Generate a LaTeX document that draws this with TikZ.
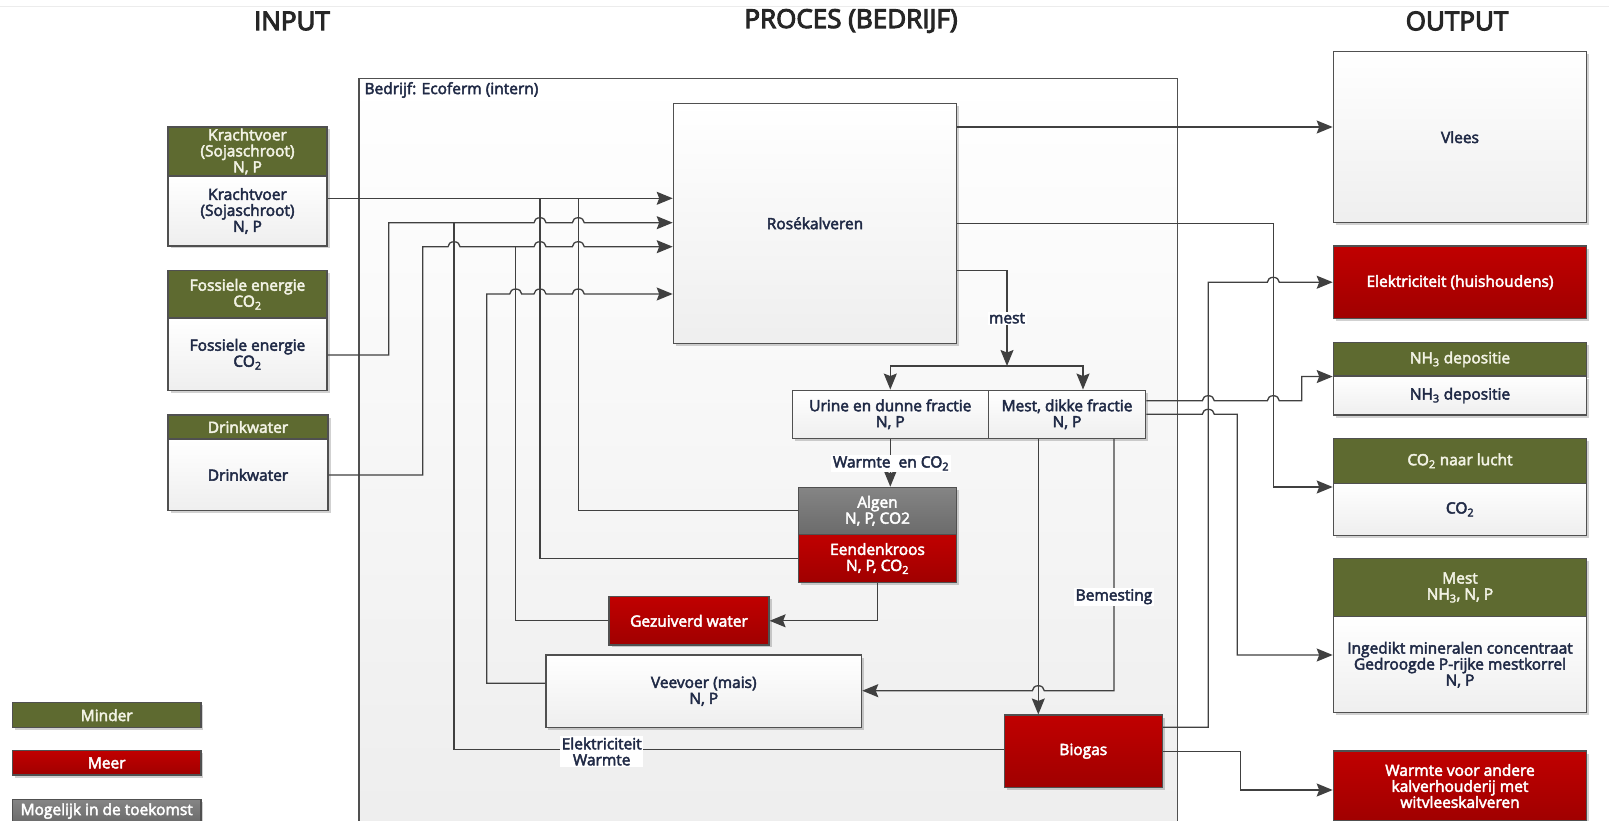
\documentclass[tikz,border=0pt]{standalone}
\usepackage{fontspec}
\setmainfont{Open Sans}[FakeBold=3]
\usetikzlibrary{arrows.meta,shadows}

\definecolor{lijngrijs}{RGB}{64,64,64}
\definecolor{kaderrand}{RGB}{80,80,80}
\definecolor{olijf}{RGB}{94,106,48}
\definecolor{roodboven}{RGB}{192,0,0}
\definecolor{roodonder}{RGB}{160,0,0}
\definecolor{donkerblauw}{RGB}{32,42,70}
\definecolor{kopletter}{RGB}{242,242,228}

\newcommand{\sprong}{arc[start angle=180,end angle=0,x radius=6pt,y radius=5pt]}
\newcommand{\sprongL}{arc[start angle=0,end angle=180,x radius=6pt,y radius=5pt]}

\tikzset{
  titel/.style={font=\fontsize{26}{30}\selectfont\addfontfeature{FakeBold=4}, text=black!85},
  proces/.style={draw=kaderrand, line width=1.2pt, top color=white, bottom color=gray!14},
  vak/.style={draw=kaderrand, line width=1.2pt, align=center, inner sep=0.5pt,
    font=\fontsize{15.5}{16}\selectfont,
    drop shadow={shadow xshift=2.5pt, shadow yshift=-2.5pt, fill=black, opacity=0.18}},
  wit/.style={vak, top color=white, bottom color=gray!13, text=donkerblauw},
  rood/.style={vak, top color=roodboven, bottom color=roodonder, text=white},
  groen/.style={vak, fill=olijf, text=kopletter},
  grijs/.style={vak, top color=black!48, bottom color=black!58, text=white},
  lijn/.style={draw=lijngrijs, line width=1.3pt},
  pijl/.style={lijn, -{Stealth[length=16pt,width=13pt,inset=2.5pt]}},
  etiket/.style={fill=white, inner sep=1.5pt, align=center,
    font=\fontsize{15.5}{16}\selectfont, text=donkerblauw}
}

\begin{document}
\begin{tikzpicture}[x=1pt,y=-1pt]
      \useasboundingbox (0,0) rectangle (1609,821);
      \fill[white] (0,0) rectangle (1609,821);
      \draw[gray!15] (0,6) -- (1609,6);

      \node[titel] (TI) at (292,21) {INPUT};
      \node[titel] (TP) at (851,21) {PROCES (BEDRIJF)};
      \node[titel] (TO) at (1457,21) {OUTPUT};

      \node[proces, anchor=north west, minimum width=818.4pt, minimum height=770pt] (BD) at (358.3,78.3) {};
      \node[anchor=west, font=\fontsize{15.5}{16}\selectfont, text=donkerblauw] (BDL) at (361,90) {Bedrijf: Ecoferm (intern)};

      \node[groen, minimum width=159pt, minimum height=49pt] (KVH) at (247.5,151.5) {Krachtvoer\\(Sojaschroot)\\N, P};
      \node[wit, minimum width=159pt, minimum height=70pt] (KVB) at (247.5,211) {Krachtvoer\\(Sojaschroot)\\N, P};
      \node[groen, minimum width=159pt, minimum height=47.3pt] (FEH) at (247.5,294.3) {Fossiele energie\\CO\textsubscript{2}};
      \node[wit, minimum width=159pt, minimum height=72.7pt] (FEB) at (247.5,354.3) {Fossiele energie\\CO\textsubscript{2}};
      \node[groen, minimum width=160pt, minimum height=24pt] (DWH) at (248,427) {Drinkwater};
      \node[wit, minimum width=160pt, minimum height=71.7pt] (DWB) at (248,474.9) {Drinkwater};

      \node[groen, minimum width=188.4pt, minimum height=25pt] (LM) at (106.7,715.2) {Minder};
      \node[rood, minimum width=188.4pt, minimum height=24.3pt] (LR) at (106.7,762.9) {Meer};
      \node[grijs, minimum width=188.4pt, minimum height=23.4pt] (LG) at (106.7,811) {Mogelijk in de toekomst};

      \node[wit, minimum width=283.4pt, minimum height=240pt] (RK) at (815,223.3) {Rosékalveren};
      \node[wit, minimum width=196pt, minimum height=48.3pt] (UR) at (890.3,414.3) {Urine en dunne fractie\\N, P};
      \node[wit, minimum width=157.4pt, minimum height=48.3pt] (MD) at (1067,414.3) {Mest, dikke fractie\\N, P};
      \node[grijs, minimum width=158.4pt, minimum height=47pt] (AL) at (877.5,510.8) {Algen\\N, P, CO2};
      \node[rood, minimum width=158.4pt, minimum height=48.4pt] (EK) at (877.5,558.5) {Eendenkroos\\N, P, CO\textsubscript{2}};
      \node[rood, minimum width=160pt, minimum height=48.3pt] (GW) at (689,620.8) {Gezuiverd water};
      \node[wit, minimum width=315.7pt, minimum height=72.3pt] (VV) at (703.8,691.2) {Veevoer (mais)\\N, P};
      \node[rood, minimum width=158pt, minimum height=72.3pt] (BG) at (1083.3,751.2) {Biogas};

      \node[wit, minimum width=253.4pt, minimum height=171pt] (VL) at (1460,137.2) {Vlees};
      \node[rood, minimum width=253.4pt, minimum height=72.3pt] (EH) at (1460,282.2) {Elektriciteit (huishoudens)};
      \node[groen, minimum width=253.4pt, minimum height=33.3pt] (NHH) at (1460,359.3) {NH\textsubscript{3} depositie};
      \node[wit, minimum width=253.4pt, minimum height=39pt] (NHB) at (1460,395.5) {NH\textsubscript{3} depositie};
      \node[groen, minimum width=253.4pt, minimum height=45pt] (COH) at (1460,460.8) {CO\textsubscript{2} naar lucht};
      \node[wit, minimum width=253.4pt, minimum height=52pt] (COB) at (1460,509.3) {CO\textsubscript{2}};
      \node[groen, minimum width=253.4pt, minimum height=58.4pt] (MOH) at (1460,587.5) {Mest\\NH\textsubscript{3}, N, P};
      \node[wit, minimum width=253.4pt, minimum height=96pt] (MOB) at (1460,664.7) {Ingedikt mineralen concentraat\\Gedroogde P-rijke mestkorrel\\N, P};
      \node[rood, minimum width=253.4pt, minimum height=70pt] (WA) at (1460,786) {Warmte voor andere\\kalverhouderij met\\witvleeskalveren};

      \coordinate (SP) at (1007,366);

      \draw[pijl] (KVB.east |- 0,198.3) -- (RK.west |- 0,198.3);
      \draw[pijl] (FEB.east |- 0,355) -| (388.7,222.7) -- (534,222.7) \sprong -- (572.3,222.7) \sprong -- (RK.west |- 0,222.7);
      \draw[pijl] (DWB.east) -| (422.7,246.7) -- (448,246.7) \sprong -- (534,246.7) \sprong -- (572.3,246.7) \sprong -- (RK.west |- 0,246.7);
      \draw[pijl] (VV.west |- 0,683.3) -| (486.7,294) -- (509.7,294) \sprong -- (534,294) \sprong -- (572.3,294) \sprong -- (RK.west |- 0,294);
      \draw[lijn] (BG.west |- 0,749.3) -| (454,222.7);
      \draw[lijn] (GW.west) -| (515.7,246.7);
      \draw[lijn] (EK.west) -| (540,198.3);
      \draw[lijn] (AL.west) -| (578.3,198.3);

      \draw[pijl] (RK.east |- 0,270.7) -| (SP);
      \draw[pijl] (SP) -| (UR.north);
      \draw[pijl] (SP) -| ([xshift=16pt]MD.north);
      \draw[pijl] (UR.south) -- (UR.south |- AL.north);
      \draw[pijl] (EK.south) |- (GW.east);
      \draw[pijl] (1038.3,0 |- MD.south) -- (1038.3,0 |- BG.north);
      \draw[pijl] (1114,0 |- MD.south) |- (1044.3,690.7) \sprongL -- (VV.east |- 0,690.7);

      \draw[pijl] (RK.east |- 0,127) -- (VL.west |- 0,127);
      \draw[pijl] (RK.east) -| (1273.3,487) -- (COH.west |- 0,487);
      \draw[pijl] (BG.east |- 0,727.3) -| (1208.3,282.3) -- (1267.3,282.3) \sprong -- (EH.west);
      \draw[pijl] (MD.east |- 0,400.7) -- (1202.3,400.7) \sprong -- (1267.3,400.7) \sprong -- (1301.7,400.7) |- (NHH.south west);
      \draw[pijl] (MD.east) -- (1202.3,414.3) \sprong -- (1237.3,414.3) |- (MOB.west |- 0,655);
      \draw[pijl] (BG.east) -| (1240.7,790) -- (WA.west |- 0,790);

      \node[etiket] (LMS) at (1007,318.3) {mest};
      \node[etiket] (LWC) at (891,463.3) {Warmte\ \ en CO\textsubscript{2}};
      \node[etiket] (LBM) at (1114,596.7) {Bemesting};
      \node[etiket] (LEW) at (601.7,751.5) {Elektriciteit\\Warmte};
    \end{tikzpicture}
\end{document}
